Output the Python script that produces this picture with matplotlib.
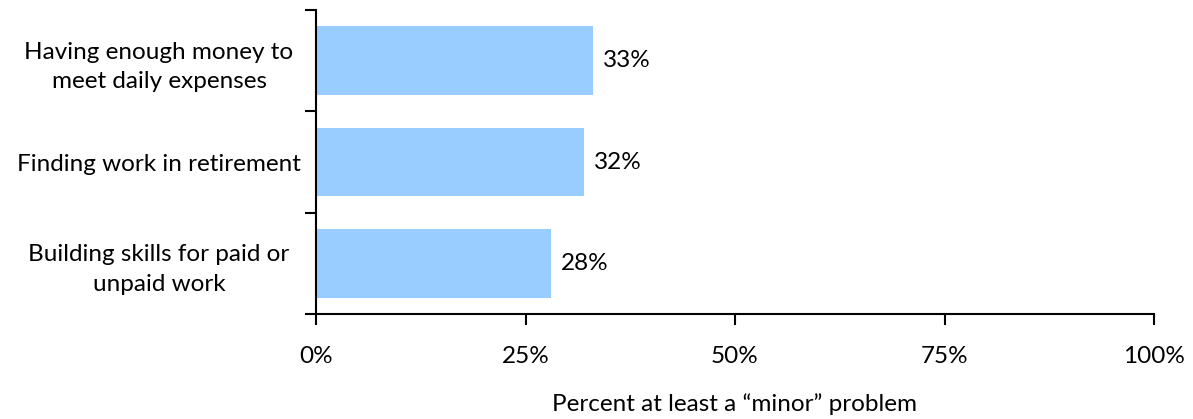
import matplotlib
matplotlib.use("Agg")
import matplotlib.pyplot as plt
from matplotlib.ticker import FixedLocator

categories = ["Having enough money to\nmeet daily expenses",
              "Finding work in retirement",
              "Building skills for paid or\nunpaid work"]
values = [33, 32, 28]
xticks = [0, 25, 50, 75, 100]
xticklabels = ["0%", "25%", "50%", "75%", "100%"]
xlabel = "Percent at least a \u201cminor\u201d problem"

plt.rcParams['font.family'] = ['Lato', 'DejaVu Sans']
fs = 17.5

fig = plt.figure(figsize=(11.93, 4.19), dpi=100)
ax = fig.add_axes([316/1193, 1-314/419, (1154-316)/1193, (314-10)/419])

ypos = list(range(len(categories)))[::-1]
ax.barh(ypos, values, height=0.68, color="#99CCFF", zorder=2)
for y, v in zip(ypos, values):
    ax.text(v + 1.2, y, f"{v}%", va="center", ha="left", fontsize=fs, color="#000000")

ax.set_xlim(0, 100)
ax.set_ylim(-0.5, 2.5)
ax.set_xticks(xticks)
ax.set_xticklabels(xticklabels, fontsize=fs)
ax.set_yticks(ypos)
ax.set_yticklabels(categories, fontsize=fs, ha="center", linespacing=1.5)
ax.yaxis.set_minor_locator(FixedLocator([-0.5, 0.5, 1.5, 2.5]))
ax.tick_params(axis="y", which="major", length=0, pad=113)
ax.tick_params(axis="y", which="minor", length=8, width=1.5, direction="out")
ax.tick_params(axis="x", which="major", length=8, width=1.5, direction="out", pad=15)
for s in ["top", "right"]:
    ax.spines[s].set_visible(False)
for s in ["left", "bottom"]:
    ax.spines[s].set_linewidth(1.5)
ax.set_xlabel(xlabel, fontsize=fs, labelpad=19)

fig.savefig("out.png", dpi=100)
